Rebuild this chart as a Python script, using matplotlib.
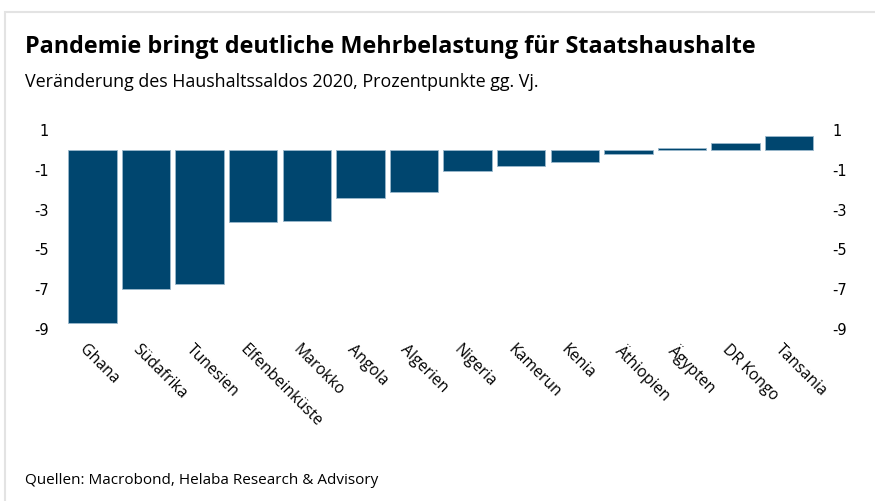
import matplotlib.pyplot as plt
from matplotlib.patches import Rectangle
from matplotlib.transforms import ScaledTranslation

# ── Data ──
countries = ["Ghana", "Südafrika", "Tunesien", "Elfenbeinküste", "Marokko", "Angola",
             "Algerien", "Nigeria", "Kamerun", "Kenia", "Äthiopien", "Ägypten",
             "DR Kongo", "Tansania"]
changes = [-8.7, -7.0, -6.75, -3.6, -3.55, -2.4, -2.1, -1.05, -0.8, -0.6, -0.2, 0.08, 0.33, 0.72]
yticks = [1, -1, -3, -5, -7, -9]

BAR_COLOR = "#00466F"
FONT = "Open Sans"

fig = plt.figure(figsize=(8.75, 5.01), dpi=100)

# light frame around the chart
fig.patches.append(Rectangle((5 / 875, -0.01), 1.0, 1 - 12 / 501 + 0.01,
                             transform=fig.transFigure, fill=False,
                             edgecolor="#e3e3e3", linewidth=1.5))

ax = fig.add_axes([65.6 / 875, 1 - 336 / 501, 750.4 / 875, (336 - 124) / 501])
x = range(len(countries))
ax.bar(x, changes, width=0.9, color=BAR_COLOR, edgecolor="#9ab8cc", linewidth=0.6)

ax.set_xlim(-0.5, len(countries) - 0.5)
ax.set_ylim(-9.35, 1.3)
ax.set_yticks(yticks)
ax.set_yticklabels([str(t) for t in yticks])
ax.tick_params(axis="y", length=0, labelsize=10.5, labelleft=True, labelright=True, pad=12)
ax.tick_params(axis="x", length=0, pad=8)
for side in ["top", "right", "left", "bottom"]:
    ax.spines[side].set_visible(False)

ax.set_xticks(list(x))
ax.set_xticklabels(countries, rotation=-45, ha="left", va="center",
                   rotation_mode="anchor", fontsize=11.3, family=FONT)
# nudge the slanted labels a bit left, like the original
shift = ScaledTranslation(-11 / 100, 0, fig.dpi_scale_trans)
for lbl in ax.get_xticklabels():
    lbl.set_transform(lbl.get_transform() + shift)

# ── Texts ──
fig.text(25 / 875, 1 - 47 / 501, "Pandemie bringt deutliche Mehrbelastung für Staatshaushalte",
         fontsize=16.8, fontweight="bold", family=FONT, va="center", ha="left")
fig.text(25 / 875, 1 - 82 / 501, "Veränderung des Haushaltssaldos 2020, Prozentpunkte gg. Vj.",
         fontsize=12.9, family=FONT, va="center", ha="left")
fig.text(25 / 875, 1 - 480 / 501, "Quellen: Macrobond, Helaba Research & Advisory",
         fontsize=11, family=FONT, va="center", ha="left")

plt.savefig("out.png", dpi=100)
